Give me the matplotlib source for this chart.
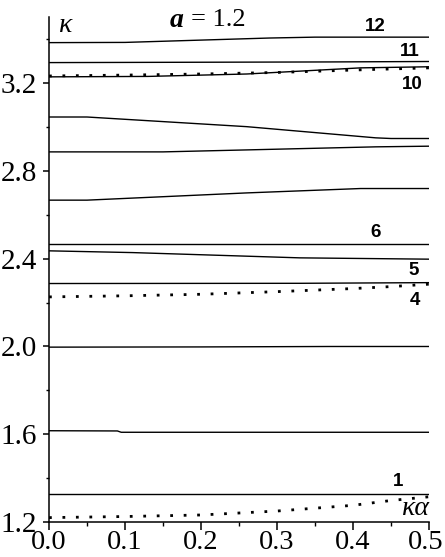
import matplotlib
matplotlib.use("Agg")
import matplotlib.pyplot as plt
from matplotlib.ticker import MultipleLocator, FormatStrFormatter
from matplotlib.transforms import ScaledTranslation

# solid branches, (k*alpha, kappa)
x12 = [0.0, 0.10, 0.29, 0.35, 0.5]
y12 = [3.385, 3.386, 3.406, 3.410, 3.410]
x11 = [0.0, 0.37, 0.5]
y11 = [3.294, 3.297, 3.299]
x10 = [0.0, 0.13, 0.26, 0.41, 0.5]
y10 = [3.229, 3.231, 3.242, 3.270, 3.275]
x9 = [0.0, 0.05, 0.26, 0.43, 0.45, 0.5]
y9 = [3.046, 3.046, 3.002, 2.951, 2.948, 2.948]
x8 = [0.0, 0.15, 0.26, 0.43, 0.5]
y8 = [2.887, 2.887, 2.896, 2.910, 2.913]
x7 = [0.0, 0.05, 0.26, 0.41, 0.5]
y7 = [2.667, 2.667, 2.700, 2.720, 2.720]
x6 = [0.0, 0.5]
y6 = [2.467, 2.467]
x5 = [0.0, 0.11, 0.33, 0.5]
y5 = [2.436, 2.428, 2.404, 2.398]
x4 = [0.0, 0.33, 0.5]
y4 = [2.287, 2.288, 2.291]
x3 = [0.0, 0.20, 0.37, 0.5]
y3 = [1.997, 1.998, 2.000, 2.000]
x2 = [0.0, 0.09, 0.095, 0.5]
y2 = [1.616, 1.615, 1.609, 1.609]
x1 = [0.0, 0.5]
y1 = [1.326, 1.326]

# dotted light lines
xd = [0.0, 0.1, 0.2, 0.3, 0.4, 0.45, 0.5]
dot_top = [3.233, 3.237, 3.242, 3.249, 3.260, 3.265, 3.270]
dot_mid = [2.226, 2.231, 2.238, 2.250, 2.264, 2.273, 2.284]
dot_low = [1.220, 1.225, 1.232, 1.250, 1.276, 1.298, 1.315]

branch_labels = ["12", "11", "10", "6", "5", "4", "1"]
label_x = [0.429, 0.475, 0.478, 0.430, 0.480, 0.482, 0.459]
label_y = [3.457, 3.346, 3.193, 2.521, 2.346, 2.211, 1.385]

xticks = [0.0, 0.1, 0.2, 0.3, 0.4, 0.5]
yticks = [1.2, 1.6, 2.0, 2.4, 2.8, 3.2]

fig = plt.figure(figsize=(4.45, 5.57), dpi=100)
ax = fig.add_axes([49/445, 35/557, 380/445, 504.6/557])

solid = [(x12, y12), (x11, y11), (x10, y10), (x9, y9), (x8, y8), (x7, y7),
         (x6, y6), (x5, y5), (x4, y4), (x3, y3), (x2, y2), (x1, y1)]
for xs, ys in solid:
    ax.plot(xs, ys, color="black", lw=1.0)

for ys in [dot_top, dot_mid, dot_low]:
    ax.plot(xd, ys, color="black", lw=2.0, linestyle=(0, (1, 3.85)),
            dash_capstyle="butt", clip_on=False)

for t, lx, ly in zip(branch_labels, label_x, label_y):
    ax.text(lx, ly, t, ha="center", va="center", fontsize=13.5,
            fontweight="bold", family="Liberation Sans")

ax.text(0.022, 3.462, "κ", ha="center", va="center", fontsize=20,
        family="Liberation Serif", style="italic")
ax.text(0.483, 1.262, "κα", ha="center", va="center", fontsize=20,
        family="Liberation Serif", style="italic")
ax.text(0.1865, 3.488, "= 1.2", ha="left", va="center", fontsize=19,
        family="Liberation Serif")
ax.text(0.177, 3.488, "a", ha="right", va="center", fontsize=20,
        family="Liberation Serif", fontweight="bold", style="italic")

ax.set_xlim(0, 0.5)
ax.set_ylim(1.2, 3.5)
ax.spines["top"].set_visible(False)
ax.spines["right"].set_visible(False)
ax.spines["left"].set_linewidth(1.1)
ax.spines["bottom"].set_linewidth(1.1)

ax.set_xticks(xticks)
ax.set_yticks(yticks)
ax.xaxis.set_minor_locator(MultipleLocator(0.05))
ax.yaxis.set_minor_locator(MultipleLocator(0.2))
ax.tick_params(axis="x", which="major", direction="out", length=5.5, width=1.1, pad=0)
ax.tick_params(axis="x", which="minor", direction="out", length=3, width=1.0)
ax.tick_params(axis="y", which="major", direction="out", length=4.5, width=1.1, pad=4)
ax.tick_params(axis="y", which="minor", direction="out", length=2.5, width=1.0)
ax.xaxis.set_major_formatter(FormatStrFormatter("%.1f"))
ax.yaxis.set_major_formatter(FormatStrFormatter("%.1f"))
for lab in ax.get_xticklabels():
    lab.set_fontfamily("Liberation Serif")
    lab.set_fontsize(20.5)
for lab in ax.get_yticklabels():
    lab.set_fontfamily("Liberation Serif")
    lab.set_fontsize(21)
# last x label sits against the right edge of the figure
last = ax.get_xticklabels()[-1]
last.set_transform(last.get_transform() + ScaledTranslation(-3/100, 0, fig.dpi_scale_trans))

fig.savefig("out.png", dpi=100)
